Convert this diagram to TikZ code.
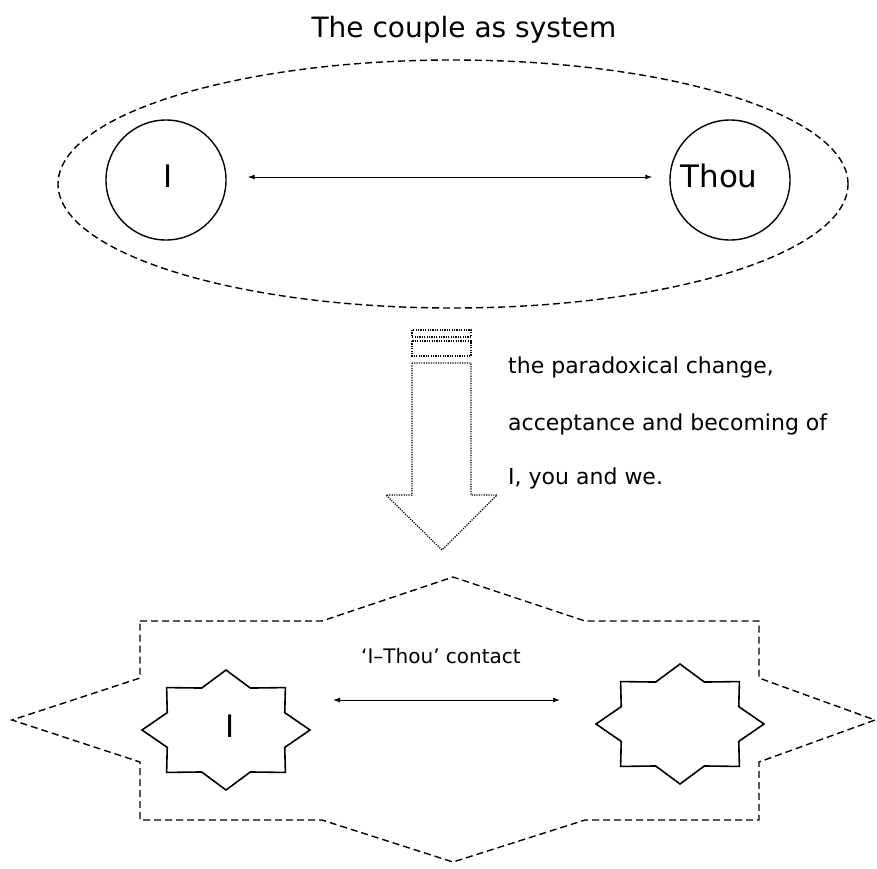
\documentclass[tikz,border=0pt]{standalone}
\usepackage{fontspec}
\setmainfont{DejaVu Sans}
\usetikzlibrary{arrows.meta,shapes.geometric}
\begin{document}
\begin{tikzpicture}[x=1pt,y=-1pt,
  dashline/.style={dash pattern=on 7pt off 4pt, line width=1.4pt},
  ring/.style={circle, draw, line width=1.4pt, minimum size=120pt, inner sep=0pt},
  link/.style={{Latex[length=7pt,width=5pt]}-{Latex[length=7pt,width=5pt]}, line width=1pt},
  dotline/.style={dash pattern=on 1.2pt off 1.2pt, line width=1.2pt},
  starline/.style={line width=1.6pt, line join=miter},
  lbl/.style={inner sep=0pt, anchor=base west, font=\fontsize{22}{26}\selectfont},
  big/.style={inner sep=0pt, anchor=base, font=\fontsize{31}{36}\selectfont}
]
\useasboundingbox (0,0) rectangle (877,868);

% top part
\node[font=\fontsize{28}{33}\selectfont] (title) at (464,30) {The couple as system};
\node[draw, ellipse, dashline, minimum width=790pt, minimum height=248pt, inner sep=0pt] (sys) at (453,184) {};
\node[ring] (I) at (166,180) {};
\node[ring] (Thou) at (730,180) {};
\node[big] (Itxt) at (168,187) {I};
\node[big] (Thoutxt) at (719,187) {Thou};
\draw[link] ([xshift=21pt,yshift=3pt]I.east) -- ([xshift=-17pt,yshift=3pt]Thou.west);

% dotted block arrow
\draw[dotline] (412,363) -- (412,495) -- (386,495) -- (442,550) -- (497,495) -- (471,495) -- (471,363) -- cycle;
\draw[dotline] (412,330) rectangle (471,337);
\draw[dotline] (412,341) rectangle (471,356);

\node[lbl] (t1) at (508,373) {the paradoxical change,};
\node[lbl] (t2) at (508,430) {acceptance and becoming of};
\node[lbl] (t3) at (508,484) {I, you and we.};

% bottom part
\draw[dashline] (140,621) -- (322,621) -- (453,577) -- (585,621) -- (759,621) -- (759,678)
  -- (875,720) -- (759,762) -- (759,820) -- (585,820) -- (453,862) -- (322,820) -- (140,820)
  -- (140,762) -- (12,720) -- (140,678) -- cycle;

\draw[starline, shift={(226,730)}] (0:84 and 60)
  \foreach \k in {0,...,7} { -- ({\k*45+22.5}:{0.757*84} and {0.757*60}) -- ({\k*45+45}:84 and 60) } -- cycle;
\draw[starline, shift={(680,724)}] (0:84 and 60)
  \foreach \k in {0,...,7} { -- ({\k*45+22.5}:{0.757*84} and {0.757*60}) -- ({\k*45+45}:84 and 60) } -- cycle;

\node[big] (I2) at (230,737) {I};
\coordinate (Y2) at (680,724);
\node[font=\fontsize{20}{24}\selectfont] (contact) at (441,656) {`I--Thou' contact};
\draw[link] ([xshift=103pt,yshift=37pt]I2.base) -- ([xshift=-120pt,yshift=24pt]Y2);
\end{tikzpicture}
\end{document}
